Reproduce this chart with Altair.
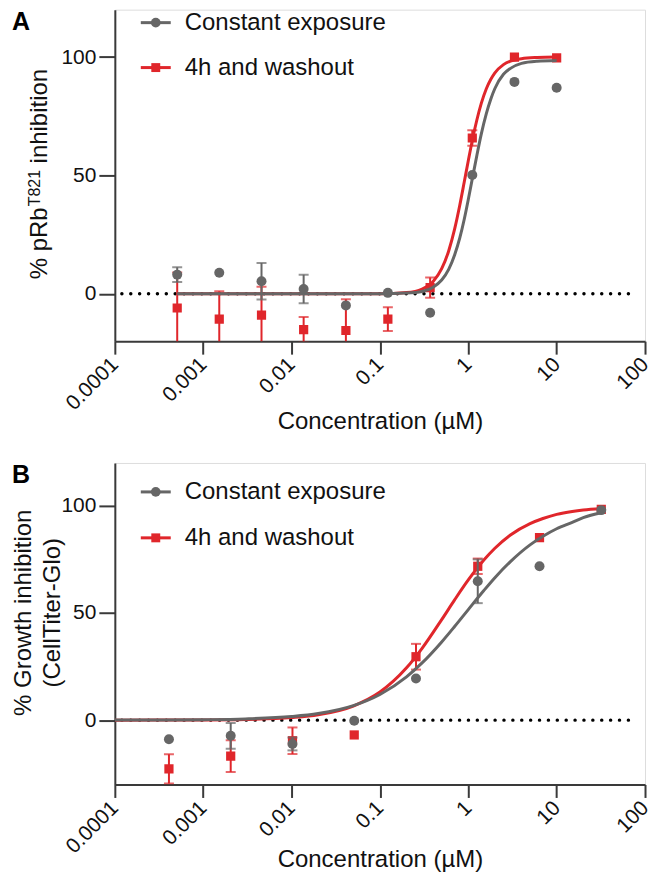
import altair as alt
import pandas as pd

FONT = "Liberation Sans"
GRAY = "#666666"
RED = "#e0262b"
SERIES = ["Constant exposure", "4h and washout"]

# ---------------- Panel A : pRb T821 inhibition ----------------
a_conc = [0.000508, 0.00152, 0.00457, 0.0137, 0.0412, 0.123, 0.370, 1.11, 3.33, 10.0]
a_const = [8.1, 8.9, 5.3, 2.0, -4.9, 0.4, -8.0, 50.2, 89.5, 87.0]
a_const_err = [3.1, 0, 7.7, 6.0, 0, 0, 0, 0, 0, 0]
a_wash = [-6.0, -10.7, -9.0, -15.1, -15.5, -10.7, 2.6, 65.8, 100.0, 99.6]
a_wash_err = [15.0, 11.8, 12.0, 5.3, 13.2, 5.0, 4.3, 3.3, 0, 0]

a_fit_x = [0.000508, 0.01, 0.1, 0.2, 0.3, 0.4, 0.5, 0.6, 0.7, 0.8, 0.9, 1.0,
           1.12, 1.25, 1.4, 1.6, 1.8, 2.0, 2.5, 3.0, 4.0, 6.0, 10.0]
a_fit_const = [0.0, 0.0, 0.0, 0.3, 1.0, 2.8, 5.8, 10.3, 16.4, 23.5, 31.5, 39.8,
               49.3, 58.4, 67.3, 76.1, 82.3, 86.7, 92.7, 95.2, 97.3, 98.2, 98.5]
a_fit_wash = [0.0, 0.0, 0.0, 0.5, 2.0, 5.2, 10.6, 18.1, 27.3, 37.3, 47.2, 56.2,
              65.5, 73.4, 80.3, 86.6, 90.6, 93.3, 96.8, 98.3, 99.3, 99.8, 100.0]

# ---------------- Panel B : growth inhibition ----------------
b_conc = [0.0004096, 0.002048, 0.01024, 0.0512, 0.256, 1.28, 6.4, 32.0]
b_const = [-8.9, -7.3, -11.1, -0.3, 19.4, 64.8, 71.8, 98.0]
b_const_err = [0, 6.0, 3.0, 0, 0, 10.2, 0, 0]
b_wash = [-22.7, -16.8, -9.6, -6.9, 29.6, 71.8, 85.2, 98.3]
b_wash_err = [6.8, 7.4, 6.2, 0, 6.0, 3.6, 0, 0]

b_fit_x = [0.0001, 0.0003, 0.001, 0.003, 0.01, 0.02, 0.05, 0.1, 0.2, 0.3, 0.5,
           0.7, 1.0, 1.5, 2.0, 3.0, 5.0, 7.0, 10.0, 15.0, 20.0, 32.0]
b_fit_const = [0.03, 0.08, 0.22, 0.59, 1.7, 3.1, 6.8, 12.0, 20.2, 26.7, 36.5,
               43.7, 51.6, 60.5, 66.5, 74.0, 81.8, 85.8, 89.3, 92.3, 94.5, 96.8]
b_fit_wash = [0.01, 0.03, 0.1, 0.32, 1.2, 2.5, 6.6, 13.1, 24.4, 33.5, 46.9,
              56.1, 65.4, 74.7, 80.2, 86.4, 91.7, 94.1, 96.0, 97.4, 98.1, 98.8]

x_ticks = [0.0001, 0.001, 0.01, 0.1, 1, 10, 100]
y_ticks = [0, 50, 100]
zero_x = [0.00012, 80]


def make_panel(letter, conc, c_vals, c_err, w_vals, w_err, fit_x, fit_c, fit_w,
               ydom, height, title_y, legend_rows, ytitle_layers):
    x_enc = alt.X(
        "conc:Q",
        scale=alt.Scale(type="log", domain=[0.0001, 100], nice=False),
        axis=alt.Axis(values=x_ticks, format="~g", labelAngle=-45, labelAlign="right",
                      labelBaseline="middle", labelPadding=7, labelFontSize=21, labelFont=FONT,
                      labelColor="#111111", labelOverlap=False, tickSize=13, tickWidth=2,
                      tickColor="#3a3a3a", domainColor="#3a3a3a", domainWidth=2, grid=False,
                      title="Concentration (µM)", titleFont=FONT, titleFontSize=24,
                      titleFontWeight="normal", titleColor="#111111", titleY=title_y,
                      titleBaseline="alphabetic"),
    )
    y_enc = alt.Y(
        "val:Q",
        scale=alt.Scale(domain=ydom, nice=False, zero=False),
        axis=alt.Axis(values=y_ticks, labelFontSize=21, labelFont=FONT, labelColor="#111111",
                      labelPadding=3, tickSize=16, tickWidth=2, tickColor="#3a3a3a",
                      domainColor="#3a3a3a", domainWidth=2, grid=False, title=None),
    )

    layers = []
    zero = pd.DataFrame({"conc": zero_x, "val": [0, 0]})
    layers.append(alt.Chart(zero).mark_line(color="#000000", strokeWidth=3.4, strokeCap="round",
                                            strokeDash=[0.1, 8.8]).encode(x=x_enc, y=y_enc))

    series = [
        (SERIES[1], RED, "square", fit_w, w_vals, w_err, 85),
        (SERIES[0], GRAY, "circle", fit_c, c_vals, c_err, 100),
    ]
    for name, color, shape, fit_vals, vals, errs, size in series:
        fit = pd.DataFrame({"conc": fit_x, "val": fit_vals})
        layers.append(alt.Chart(fit).mark_line(color=color, strokeWidth=3, interpolate="monotone",
                                               clip=True).encode(x=x_enc, y=y_enc))
        pts = pd.DataFrame({"conc": conc, "val": vals, "err": errs})
        pts["lo"] = pts["val"] - pts["err"]
        pts["hi"] = pts["val"] + pts["err"]
        eb = pts[pts["err"] > 0].copy()
        layers.append(alt.Chart(eb).mark_rule(color=color, strokeWidth=2, clip=True).encode(
            x=x_enc, y=alt.Y("lo:Q"), y2=alt.Y2("hi:Q")))
        for col in ["lo", "hi"]:
            layers.append(alt.Chart(eb).mark_tick(color=color, orient="horizontal", size=10,
                                                  thickness=2, clip=True).encode(
                x=x_enc, y=alt.Y(f"{col}:Q")))
        layers.append(alt.Chart(pts).mark_point(color=color, filled=True, shape=shape, size=size,
                                                opacity=1, clip=True).encode(x=x_enc, y=y_enc))

    # legend (inside plot, top left)
    for name, color, shape, ypos in legend_rows:
        one = pd.DataFrame({"label": [name]})
        layers.append(alt.Chart(one).mark_rule(color=color, strokeWidth=3).encode(
            x=alt.value(26), x2=alt.value(56), y=alt.value(ypos)))
        layers.append(alt.Chart(one).mark_point(color=color, filled=True, shape=shape,
                                                size=95 if shape == "circle" else 80,
                                                opacity=1).encode(
            x=alt.value(41), y=alt.value(ypos)))
        layers.append(alt.Chart(one).mark_text(align="left", baseline="middle", font=FONT,
                                               fontSize=24, color="#111111").encode(
            x=alt.value(70), y=alt.value(ypos), text="label:N"))

    # panel letter
    lt = pd.DataFrame({"t": [letter]})
    layers.append(alt.Chart(lt).mark_text(align="left", baseline="top", font=FONT, fontSize=25,
                                          fontWeight="bold", color="#000000").encode(
        x=alt.value(-103), y=alt.value(0), text="t:N"))

    # rotated y-axis title pieces
    for txt, xv, yv, fs, al in ytitle_layers:
        d = pd.DataFrame({"t": [txt]})
        layers.append(alt.Chart(d).mark_text(angle=270, align=al, baseline="alphabetic", font=FONT,
                                             fontSize=fs, color="#111111").encode(
            x=alt.value(xv), y=alt.value(yv), text="t:N"))

    return alt.layer(*layers).properties(width=531, height=height)


panel_a = make_panel(
    "A", a_conc, a_const, a_const_err, a_wash, a_wash_err, a_fit_x, a_fit_const, a_fit_wash,
    [-20, 120], 332, 87,
    [(SERIES[0], GRAY, "circle", 13), (SERIES[1], RED, "square", 58)],
    [("% pRb", -68, 270, 24, "left"), ("T821", -75, 197, 16, "left"),
     ("inhibition", -68, 154, 24, "left")],
)

panel_b = make_panel(
    "B", b_conc, b_const, b_const_err, b_wash, b_wash_err, b_fit_x, b_fit_const, b_fit_wash,
    [-30, 120], 322, 82,
    [(SERIES[0], GRAY, "circle", 29), (SERIES[1], RED, "square", 75)],
    [("% Growth inhibition", -84, 150, 24, "center"), ("(CellTiter-Glo)", -55, 150, 24, "center")],
)

chart = alt.vconcat(panel_a, panel_b, spacing=28).properties(
    padding={"left": 3, "top": 0, "right": 0, "bottom": 0}).configure_view(
    stroke=None).configure(font=FONT)

chart.save("out.html", embed_options={"renderer": "svg", "actions": False})
